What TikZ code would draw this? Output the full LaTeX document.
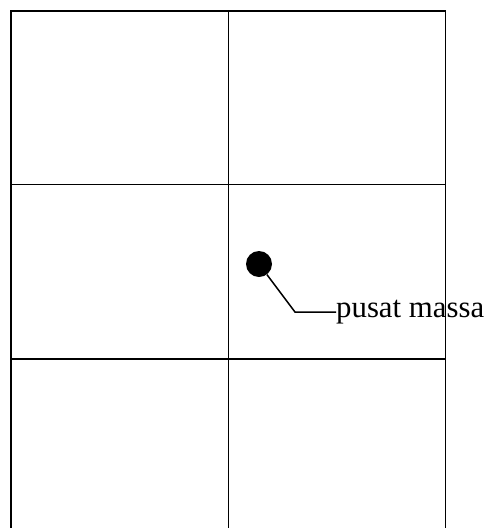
\documentclass[tikz,border=0pt]{standalone}
\usepackage{fontspec}
\setmainfont{Liberation Serif}
\begin{document}
\begin{tikzpicture}[x=1pt,y=-1pt,
  gridline/.style={line width=1.5pt,black},
  massdot/.style={circle,fill=black,minimum size=26pt,inner sep=0pt},
  leader/.style={line width=1.5pt,black},
  lbl/.style={font=\fontsize{30.8}{36}\selectfont,inner sep=0pt,anchor=west}]
\useasboundingbox (0,0) rectangle (488,528);
% grid
\draw[gridline] (11,528) -- (11,11) -- (445.5,11) -- (445.5,528);
\draw[gridline] (228.5,11) -- (228.5,528);
\draw[gridline] (11,184.5) -- (445.5,184.5);
\draw[gridline] (11,359) -- (445.5,359);
% centre of mass
\node[massdot] (dot) at (259,264) {};
\coordinate (bend) at (295,312);
\node[lbl] (label) at (336,312) {pusat massa};
\draw[leader] (dot) -- (bend) -- (label.west);
\end{tikzpicture}
\end{document}
